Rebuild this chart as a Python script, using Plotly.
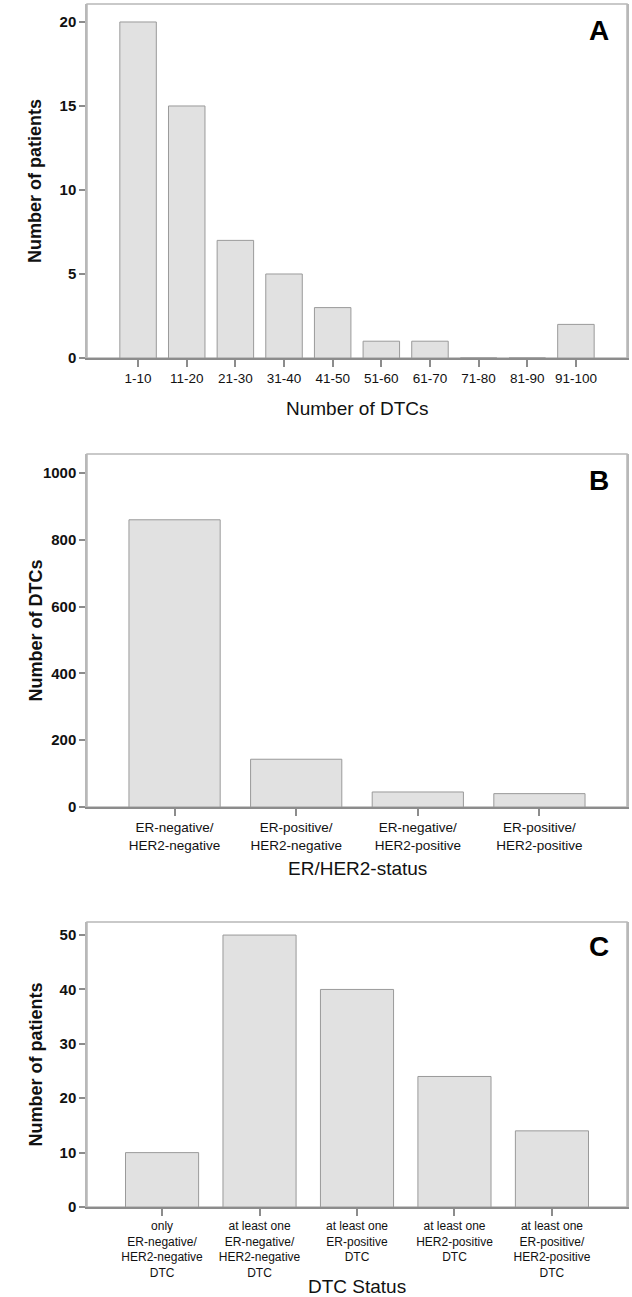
import plotly.graph_objects as go
from plotly.subplots import make_subplots

# Panel A
a_categories = ["1-10", "11-20", "21-30", "31-40", "41-50", "51-60", "61-70", "71-80", "81-90", "91-100"]
a_values = [20, 15, 7, 5, 3, 1, 1, 0, 0, 2]
a_yticks = [0, 5, 10, 15, 20]

# Panel B
b_categories = ["ER-negative/<br>HER2-negative", "ER-positive/<br>HER2-negative",
                "ER-negative/<br>HER2-positive", "ER-positive/<br>HER2-positive"]
b_values = [860, 143, 45, 40]
b_yticks = [0, 200, 400, 600, 800, 1000]

# Panel C
c_categories = ["only<br>ER-negative/<br>HER2-negative<br>DTC",
                "at least one<br>ER-negative/<br>HER2-negative<br>DTC",
                "at least one<br>ER-positive<br>DTC",
                "at least one<br>HER2-positive<br>DTC",
                "at least one<br>ER-positive/<br>HER2-positive<br>DTC"]
c_values = [10, 50, 40, 24, 14]
c_yticks = [0, 10, 20, 30, 40, 50]

W, H = 632, 1297
MT, MB, ML, MR = 4, 90, 87, 5
PH = H - MT - MB
PW = W - ML - MR


def fy(y):
    return (H - MB - y) / PH


def fx(x):
    return (x - ML) / PW


fig = make_subplots(rows=3, cols=1)

BAR_FILL = "#e1e1e1"
BAR_LINE = "#9a9a9a"
BOX = "#b8b8b8"
AXIS = "#8c8c8c"
NARROW = "Liberation Sans Narrow, Arial Narrow, Liberation Sans, Arial"
SANS = "Liberation Sans, Arial"

panels = [
    (a_categories, a_values, a_yticks, [-1.05, 10.05], [0, 21.07], (358, 4), "Number of patients", "Number of DTCs", 408, "A", 13.5),
    (b_categories, b_values, b_yticks, [-0.72, 3.72], [0, 1057], (807, 454), "Number of DTCs", "ER/HER2-status", 868, "B", 13.5),
    (c_categories, c_values, c_yticks, [-0.77, 4.77], [0, 52.4], (1207, 922), "Number of patients", "DTC Status", 1286, "C", 12),
]

for i, (cats, vals, yt, xr, yr, (yb, ytop), ytitle, xtitle, xty, letter, tfs) in enumerate(panels, start=1):
    fig.add_trace(go.Bar(x=cats, y=vals, width=0.75,
                         marker=dict(color=BAR_FILL, line=dict(color=BAR_LINE, width=1)),
                         showlegend=False), row=i, col=1)
    sfx = "" if i == 1 else str(i)
    fig.layout["yaxis" + sfx].update(domain=[fy(yb), fy(ytop)], range=yr, tickvals=yt,
                                     showline=True, linecolor=BOX, linewidth=1.5, mirror=True,
                                     ticks="outside", ticklen=6, tickcolor=AXIS, tickwidth=1.5,
                                     showgrid=False, zeroline=False,
                                     tickfont=dict(family=NARROW, size=15, color="#111", weight="bold"))
    fig.layout["xaxis" + sfx].update(range=xr, showline=True, linecolor=AXIS, linewidth=1.5, mirror=False,
                                     ticks="outside", ticklen=7, tickcolor=AXIS, tickwidth=1.5,
                                     showgrid=False, zeroline=False,
                                     tickfont=dict(family=NARROW, size=tfs, color="#111"))
    fig.add_shape(type="rect", xref=f"x{sfx} domain", yref=f"y{sfx} domain",
                  x0=0, x1=1, y0=0, y1=1, line=dict(color=BOX, width=1.5), layer="below")
    fig.add_annotation(xref=f"x{sfx} domain", yref=f"y{sfx} domain",
                       x=0.97, y=0.975, xanchor="right", yanchor="top", showarrow=False,
                       text=f"<b>{letter}</b>", font=dict(family=SANS, size=28, color="#000"))
    fig.add_annotation(xref="paper", yref="paper", x=fx(35), y=fy((yb + ytop) / 2),
                       xanchor="center", yanchor="middle", textangle=-90, showarrow=False,
                       text=f"<b>{ytitle}</b>", font=dict(family=SANS, size=18, color="#111"))
    fig.add_annotation(xref="paper", yref="paper", x=fx((ML + W - MR) / 2), y=fy(xty),
                       xanchor="center", yanchor="middle", showarrow=False,
                       text=xtitle, font=dict(family=SANS, size=19, color="#111"))

fig.update_layout(width=W, height=H, margin=dict(l=ML, r=MR, t=MT, b=MB),
                  paper_bgcolor="white", plot_bgcolor="white", bargap=0.25)

fig.write_html("out.html", config={"displayModeBar": False},
               post_script="document.body.style.margin='0';")
